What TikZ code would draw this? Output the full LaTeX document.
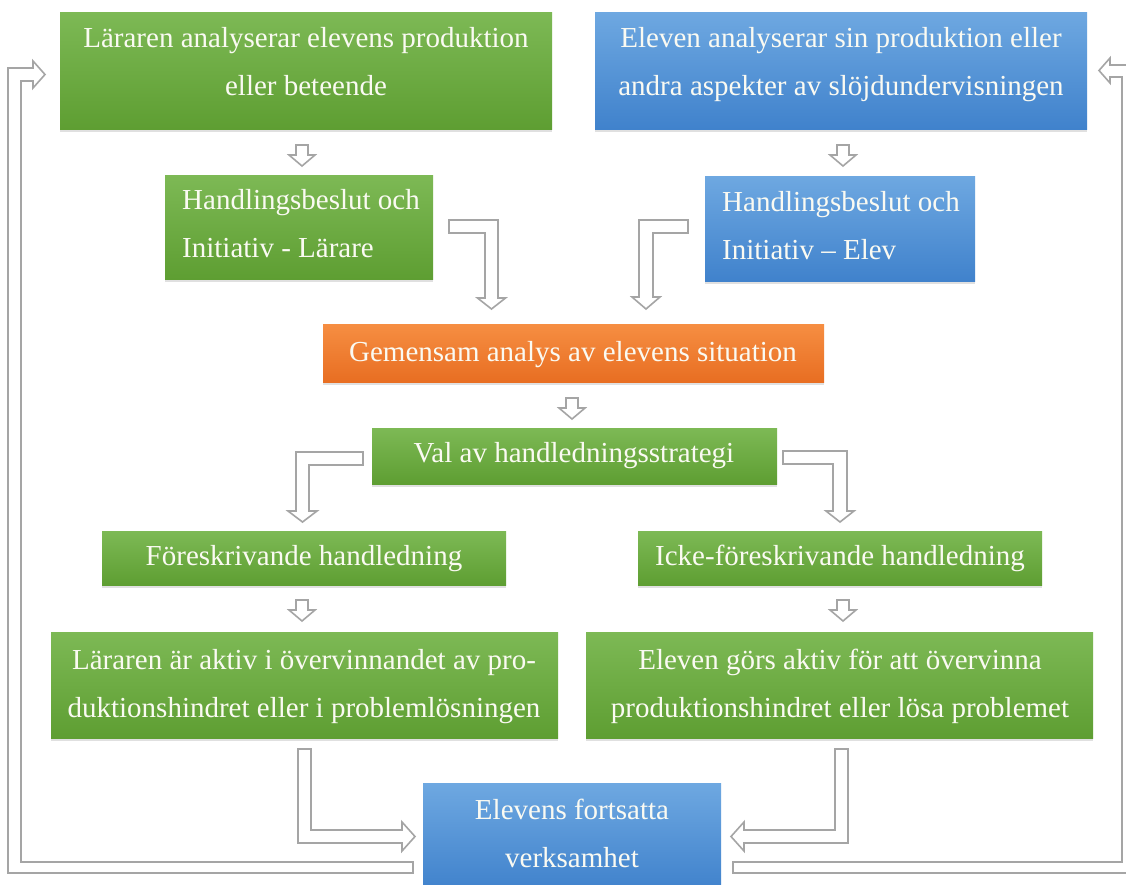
\documentclass[tikz,border=0pt]{standalone}
\usepackage{fontspec}
\setmainfont{Liberation Serif}
\usetikzlibrary{shadows}

\definecolor{gtop}{RGB}{125,185,85}
\definecolor{gbot}{RGB}{94,158,50}
\definecolor{btop}{RGB}{110,168,225}
\definecolor{bbot}{RGB}{64,130,204}
\definecolor{otop}{RGB}{246,142,66}
\definecolor{obot}{RGB}{232,110,34}
\definecolor{arrowgray}{RGB}{165,165,165}
\definecolor{txtwhite}{RGB}{250,250,242}

\begin{document}
\begin{tikzpicture}[x=1pt,y=-1pt,
  box/.style 2 args={inner sep=0pt, minimum width=#1pt, minimum height=#2pt,
    drop shadow={shadow xshift=0pt, shadow yshift=-3pt, opacity=0.12, fill=black}},
  gbox/.style={top color=gtop, bottom color=gbot},
  bbox/.style={top color=btop, bottom color=bbot},
  obox/.style={top color=otop, bottom color=obot},
  txt/.style={text=txtwhite, inner sep=0pt, anchor=base,
    font=\fontsize{29}{48}\selectfont, align=center},
  ltxt/.style={txt, align=left, anchor=base west},
  hollow/.style={draw=arrowgray, fill=white, line width=1.6pt, line join=miter}]

\useasboundingbox (0,0) rectangle (1126,884);
\clip (0,0) rectangle (1126,884);
\fill[white] (0,0) rectangle (1126,884);

% boxes
\node[box={492}{117}, gbox] (n1) at (306,70.5) {};
\node[box={492}{117}, bbox] (n2) at (841,70.5) {};
\node[box={268}{104}, gbox] (n3) at (299,227) {};
\node[box={270}{105}, bbox] (n4) at (840,228.5) {};
\node[box={501}{58}, obox] (n5) at (573.5,353) {};
\node[box={405}{56}, gbox] (n6) at (574.5,456) {};
\node[box={404}{54}, gbox] (n7) at (304,558) {};
\node[box={404}{54}, gbox] (n8) at (840,558) {};
\node[box={507}{106}, gbox] (n9) at (304.5,685) {};
\node[box={507}{106}, gbox] (n10) at (839.5,685) {};
\node[box={298}{107}, bbox] (n11) at (572,836.5) {};

% labels (placed at the baseline of their last line)
\node[txt] (t1) at (306,95.5) {Läraren analyserar elevens produktion\\eller beteende};
\node[txt] (t2) at (841,95.5) {Eleven analyserar sin produktion eller\\andra aspekter av slöjdundervisningen};
\node[ltxt] (t3) at (182,257.5) {Handlingsbeslut och\\Initiativ - Lärare};
\node[ltxt] (t4) at (722,259.5) {Handlingsbeslut och\\Initiativ – Elev};
\node[txt] (t5) at (573,361.5) {Gemensam analys av elevens situation};
\node[txt] (t6) at (574,462.5) {Val av handledningsstrategi};
\node[txt] (t7) at (304,565.5) {Föreskrivande handledning};
\node[txt] (t8) at (840,565.5) {Icke-föreskrivande handledning};
\node[txt] (t9) at (304,717.5) {Läraren är aktiv i övervinnandet av pro-\\duktionshindret eller i problemlösningen};
\node[txt] (t10) at (840,717.5) {Eleven görs aktiv för att övervinna\\produktionshindret eller lösa problemet};
\node[txt] (t11) at (572,867.5) {Elevens fortsatta\\verksamhet};

% small hollow down arrows
\foreach \cx/\ya in {302/145, 843/145, 572/398, 302/600, 843/600}{
  \draw[hollow] (\cx-6,\ya) -- (\cx+6,\ya) -- (\cx+6,\ya+10) -- (\cx+13,\ya+10)
    -- (\cx,\ya+21) -- (\cx-13,\ya+10) -- (\cx-6,\ya+10) -- cycle;
}

% bent arrows into the joint analysis
\draw[hollow] (449,220) -- (498,220) -- (498,298) -- (505.5,298) -- (491.5,309)
  -- (477.5,298) -- (485,298) -- (485,233) -- (449,233) -- cycle;
\draw[hollow] (688,220) -- (639,220) -- (639,297) -- (632,297) -- (646,309)
  -- (660,297) -- (653,297) -- (653,233) -- (688,233) -- cycle;

% bent arrows to the two strategies
\draw[hollow] (363,452) -- (296,452) -- (296,511) -- (288,511) -- (302.5,522)
  -- (317,511) -- (309,511) -- (309,465) -- (363,465) -- cycle;
\draw[hollow] (783,451) -- (847,451) -- (847,511) -- (854,511) -- (840,522)
  -- (826,511) -- (833,511) -- (833,464) -- (783,464) -- cycle;

% bent arrows into the continued activity
\draw[hollow] (298,749) -- (311,749) -- (311,830) -- (402,830) -- (402,822)
  -- (415,836.5) -- (402,851) -- (402,843) -- (298,843) -- cycle;
\draw[hollow] (848,749) -- (835,749) -- (835,830) -- (744,830) -- (744,822)
  -- (731,836.5) -- (744,851) -- (744,843) -- (848,843) -- cycle;

% feedback loops
\draw[hollow] (413,862) -- (21,862) -- (21,81) -- (33,81) -- (33,88) -- (45,74.5)
  -- (33,61) -- (33,68) -- (8,68) -- (8,873) -- (413,873) -- cycle;
\draw[hollow] (733,862) -- (1122,862) -- (1122,77) -- (1110,77) -- (1110,83)
  -- (1099,70.5) -- (1110,58) -- (1110,65) -- (1136,65) -- (1136,873) -- (733,873) -- cycle;

\end{tikzpicture}
\end{document}
